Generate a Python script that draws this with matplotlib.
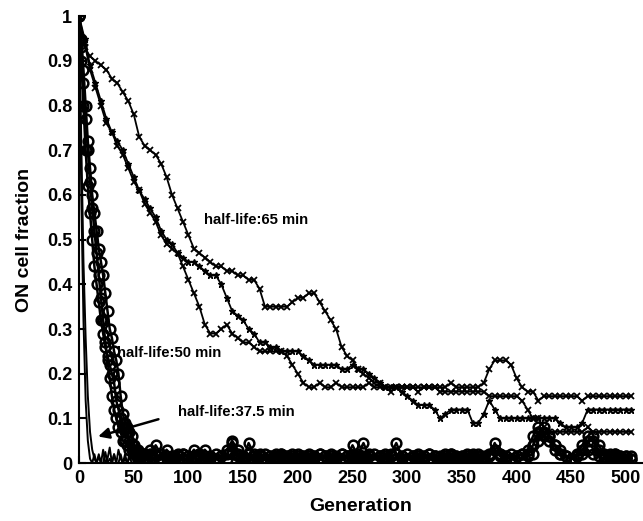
import matplotlib.pyplot as plt
import numpy as np

plt.rcParams['font.family'] = ['Liberation Sans', 'DejaVu Sans']
plt.rcParams['font.weight'] = 'bold'

# half-life 65 min: three runs, sampled every 5 generations (0..505)
gen65 = np.arange(0, 510, 5)
run65_a = [1.00, 0.93, 0.91, 0.90, 0.89, 0.88, 0.86, 0.85, 0.83, 0.81,
           0.78, 0.73, 0.71, 0.70, 0.69, 0.67, 0.64, 0.60, 0.57, 0.54,
           0.51, 0.48, 0.47, 0.46, 0.45, 0.44, 0.44, 0.43, 0.43, 0.42,
           0.42, 0.41, 0.41, 0.39, 0.35, 0.35, 0.35, 0.35, 0.35, 0.36,
           0.37, 0.37, 0.38, 0.38, 0.36, 0.34, 0.32, 0.30, 0.26, 0.24,
           0.23, 0.21, 0.20, 0.19, 0.18, 0.18, 0.17, 0.17, 0.17, 0.17,
           0.17, 0.17, 0.17, 0.17, 0.17, 0.17, 0.17, 0.17, 0.18, 0.17,
           0.17, 0.17, 0.17, 0.17, 0.18, 0.21, 0.23, 0.23, 0.23, 0.22,
           0.19, 0.17, 0.16, 0.16, 0.14, 0.15, 0.15, 0.15, 0.15, 0.15,
           0.15, 0.15, 0.14, 0.15, 0.15, 0.15, 0.15, 0.15, 0.15, 0.15,
           0.15, 0.15]
run65_b = [1.00, 0.95, 0.89, 0.85, 0.81, 0.77, 0.74, 0.72, 0.70, 0.67,
           0.64, 0.61, 0.59, 0.57, 0.55, 0.52, 0.50, 0.49, 0.47, 0.46,
           0.45, 0.45, 0.44, 0.43, 0.42, 0.42, 0.40, 0.37, 0.34, 0.33,
           0.32, 0.30, 0.29, 0.27, 0.27, 0.26, 0.26, 0.25, 0.25, 0.25,
           0.25, 0.24, 0.23, 0.22, 0.22, 0.22, 0.22, 0.22, 0.21, 0.21,
           0.22, 0.21, 0.21, 0.20, 0.19, 0.18, 0.17, 0.17, 0.17, 0.16,
           0.15, 0.14, 0.13, 0.13, 0.13, 0.12, 0.10, 0.11, 0.12, 0.12,
           0.12, 0.12, 0.09, 0.09, 0.11, 0.14, 0.12, 0.10, 0.10, 0.10,
           0.10, 0.10, 0.10, 0.10, 0.10, 0.10, 0.10, 0.10, 0.09, 0.08,
           0.08, 0.08, 0.09, 0.12, 0.12, 0.12, 0.12, 0.12, 0.12, 0.12,
           0.12, 0.12]
run65_c = [1.00, 0.94, 0.88, 0.84, 0.80, 0.76, 0.74, 0.71, 0.69, 0.66,
           0.63, 0.61, 0.58, 0.56, 0.54, 0.51, 0.49, 0.48, 0.47, 0.44,
           0.41, 0.38, 0.35, 0.31, 0.29, 0.29, 0.30, 0.31, 0.29, 0.28,
           0.27, 0.27, 0.26, 0.25, 0.25, 0.25, 0.25, 0.25, 0.24, 0.22,
           0.20, 0.18, 0.17, 0.17, 0.18, 0.17, 0.17, 0.18, 0.17, 0.17,
           0.17, 0.17, 0.17, 0.18, 0.17, 0.17, 0.17, 0.16, 0.17, 0.17,
           0.17, 0.17, 0.16, 0.17, 0.17, 0.17, 0.16, 0.16, 0.16, 0.16,
           0.16, 0.16, 0.16, 0.16, 0.16, 0.15, 0.15, 0.15, 0.15, 0.15,
           0.15, 0.14, 0.12, 0.10, 0.10, 0.08, 0.07, 0.07, 0.07, 0.07,
           0.07, 0.07, 0.07, 0.08, 0.07, 0.07, 0.07, 0.07, 0.07, 0.07,
           0.07, 0.07]

# half-life 50 min: three runs, every 2 generations up to 58, then every 5
gen50 = np.concatenate([np.arange(0, 60, 2), np.arange(60, 510, 5)])
run50_a = [1.00, 0.93, 0.85, 0.77, 0.70, 0.63, 0.57, 0.52, 0.47, 0.42,
           0.37, 0.32, 0.27, 0.23, 0.19, 0.15, 0.12, 0.10, 0.08, 0.07,
           0.05, 0.05, 0.04, 0.03, 0.03, 0.02, 0.02, 0.01, 0.02, 0.01,
           0.02, 0.03, 0.02, 0.01, 0.01, 0.015, 0.02, 0.01, 0.01, 0.015,
           0.02, 0.015, 0.01, 0.01, 0.015, 0.02, 0.045, 0.02, 0.015, 0.01,
           0.015, 0.02, 0.01, 0.01, 0.015, 0.02, 0.015, 0.01, 0.015, 0.01,
           0.02, 0.015, 0.01, 0.015, 0.02, 0.01, 0.01, 0.015, 0.04, 0.015,
           0.01, 0.015, 0.02, 0.015, 0.01, 0.015, 0.02, 0.01, 0.01, 0.015,
           0.02, 0.015, 0.01, 0.015, 0.01, 0.02, 0.015, 0.01, 0.015, 0.02,
           0.015, 0.01, 0.015, 0.02, 0.03, 0.02, 0.015, 0.01, 0.015, 0.02,
           0.015, 0.02, 0.05, 0.07, 0.06, 0.04, 0.02, 0.015, 0.01, 0.015,
           0.02, 0.03, 0.02, 0.015, 0.01, 0.015, 0.02, 0.015, 0.01, 0.015]
run50_b = [1.00, 0.95, 0.88, 0.80, 0.72, 0.66, 0.60, 0.56, 0.52, 0.48,
           0.45, 0.42, 0.38, 0.34, 0.30, 0.28, 0.25, 0.23, 0.20, 0.15,
           0.11, 0.09, 0.08, 0.07, 0.06, 0.04, 0.03, 0.03, 0.02, 0.02,
           0.02, 0.015, 0.04, 0.02, 0.015, 0.01, 0.015, 0.02, 0.015, 0.03,
           0.015, 0.01, 0.015, 0.02, 0.015, 0.01, 0.02, 0.015, 0.01, 0.045,
           0.02, 0.015, 0.01, 0.015, 0.02, 0.015, 0.01, 0.015, 0.02, 0.015,
           0.01, 0.015, 0.02, 0.015, 0.01, 0.015, 0.02, 0.015, 0.01, 0.02,
           0.045, 0.015, 0.01, 0.015, 0.02, 0.015, 0.01, 0.015, 0.02, 0.015,
           0.01, 0.015, 0.02, 0.015, 0.01, 0.015, 0.02, 0.015, 0.01, 0.015,
           0.02, 0.015, 0.01, 0.015, 0.045, 0.02, 0.015, 0.01, 0.015, 0.02,
           0.03, 0.06, 0.08, 0.06, 0.05, 0.03, 0.02, 0.015, 0.01, 0.015,
           0.03, 0.05, 0.06, 0.04, 0.02, 0.015, 0.02, 0.015, 0.015, 0.01]
run50_c = [1.00, 0.90, 0.80, 0.70, 0.62, 0.56, 0.50, 0.44, 0.40, 0.36,
           0.32, 0.29, 0.26, 0.24, 0.22, 0.20, 0.18, 0.14, 0.12, 0.10,
           0.09, 0.08, 0.07, 0.05, 0.04, 0.03, 0.03, 0.02, 0.01, 0.01,
           0.01, 0.02, 0.015, 0.01, 0.03, 0.015, 0.01, 0.02, 0.015, 0.01,
           0.02, 0.03, 0.015, 0.01, 0.015, 0.03, 0.05, 0.03, 0.015, 0.02,
           0.01, 0.015, 0.02, 0.015, 0.01, 0.02, 0.015, 0.02, 0.01, 0.015,
           0.015, 0.01, 0.02, 0.015, 0.015, 0.01, 0.02, 0.015, 0.015, 0.01,
           0.015, 0.02, 0.01, 0.015, 0.015, 0.02, 0.045, 0.015, 0.01, 0.015,
           0.015, 0.01, 0.02, 0.015, 0.015, 0.01, 0.02, 0.015, 0.015, 0.01,
           0.015, 0.02, 0.01, 0.015, 0.03, 0.015, 0.01, 0.02, 0.015, 0.01,
           0.02, 0.04, 0.07, 0.08, 0.06, 0.04, 0.03, 0.015, 0.01, 0.02,
           0.04, 0.06, 0.05, 0.03, 0.015, 0.02, 0.015, 0.01, 0.015, 0.01]

# half-life 37.5 min: two runs, every 2 generations up to 60, then flat to 505
gen37 = list(range(0, 62, 2)) + [505]
run37_a = [1.00, 0.72, 0.45, 0.28, 0.15, 0.07, 0.03, 0.01, 0.00, 0.02,
           0.00, 0.03, 0.00, 0.01, 0.035, 0.00, 0.02, 0.00, 0.03, 0.01,
           0.00, 0.02, 0.00, 0.01, 0.03, 0.00, 0.01, 0.00, 0.01, 0.00,
           0.00, 0.00]
run37_b = [1.00, 0.60, 0.32, 0.14, 0.05, 0.01, 0.00, 0.02, 0.00, 0.015,
           0.00, 0.00, 0.025, 0.00, 0.01, 0.00, 0.02, 0.00, 0.00, 0.02,
           0.00, 0.01, 0.00, 0.02, 0.00, 0.00, 0.01, 0.00, 0.00, 0.00,
           0.00, 0.00]

fig = plt.figure(figsize=(6.43, 5.21), dpi=100)
ax = fig.add_axes([0.123, 0.111, 0.876, 0.858])

# 65 min runs
ax.plot(gen65, run65_a, color='black', lw=1.3, marker='x', ms=4.5, mew=1.3)
ax.plot(gen65, run65_b, color='black', lw=1.3, marker='*', ms=5, mew=1.0)
ax.plot(gen65, run65_c, color='black', lw=1.3, marker='x', ms=4.5, mew=1.3)

# 50 min runs
for run in [run50_a, run50_b, run50_c]:
    ax.plot(gen50, run, color='black', lw=1.8, marker='o', ms=7,
            mfc='none', mew=1.8)

# 37.5 min runs
ax.plot(gen37, run37_a, color='black', lw=1.4)
ax.plot(gen37, run37_b, color='black', lw=1.4)

# annotations
ax.text(114, 0.543, 'half-life:65 min', fontsize=10.7, fontweight='bold', va='center')
ax.text(35, 0.247, 'half-life:50 min', fontsize=10.7, fontweight='bold', va='center')
ax.text(90, 0.114, 'half-life:37.5 min', fontsize=10.7, fontweight='bold', va='center')
ax.annotate('', xy=(15, 0.058), xytext=(75, 0.10),
            arrowprops=dict(arrowstyle='-|>', color='black', lw=1.8,
                            mutation_scale=16))

# axes styling
ax.set_xlim(0, 515)
ax.set_ylim(0, 1.0)
ax.spines['top'].set_visible(False)
ax.spines['right'].set_visible(False)
ax.spines['left'].set_linewidth(1.5)
ax.spines['bottom'].set_linewidth(1.5)

yticks = [0, 0.1, 0.2, 0.3, 0.4, 0.5, 0.6, 0.7, 0.8, 0.9, 1]
ytick_labels = ['0', '0.1', '0.2', '0.3', '0.4', '0.5', '0.6', '0.7', '0.8', '0.9', '1']
xticks = [0, 50, 100, 150, 200, 250, 300, 350, 400, 450, 500]
ax.set_yticks(yticks)
ax.set_yticklabels(ytick_labels)
ax.set_xticks(xticks)
ax.tick_params(direction='in', length=5, width=1.5, labelsize=13, pad=5)
for lbl in ax.get_xticklabels() + ax.get_yticklabels():
    lbl.set_fontweight('bold')

ax.set_xlabel('Generation', fontsize=14, fontweight='bold', labelpad=8)
ax.set_ylabel('ON cell fraction', fontsize=14, fontweight='bold', labelpad=10)

fig.savefig('out.png', dpi=100)
